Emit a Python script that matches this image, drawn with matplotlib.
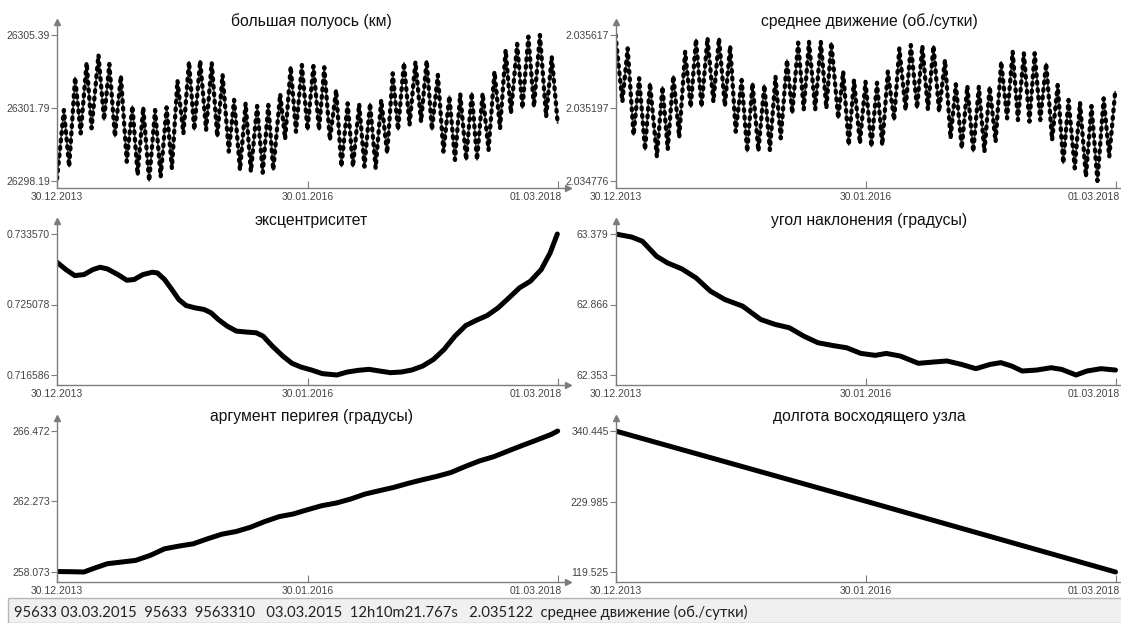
import datetime as dt
import matplotlib
matplotlib.use('Agg')
import matplotlib.pyplot as plt
from matplotlib.transforms import ScaledTranslation

# даты по оси X
date_labels = ['30.12.2013', '30.01.2016', '01.03.2018']

# моменты экстремумов колебаний (сутки от 30.12.2013)
t_a = [21, 55, 90, 126, 159, 194, 229, 262, 298, 333,
       366, 401, 435, 470, 503, 538, 573, 608, 642, 678,
       710, 744, 779, 812, 848, 883, 918, 951, 985, 1020,
       1054, 1089, 1123, 1157, 1192, 1225, 1260, 1293, 1329, 1363,
       1398, 1432, 1467, 1503]
t_b = [37, 72, 105, 143, 176, 212, 245, 280, 315, 349,
       384, 417, 453, 487, 522, 556, 589, 625, 657, 693,
       726, 761, 796, 829, 864, 899, 934, 968, 1003, 1036,
       1071, 1106, 1139, 1174, 1209, 1243, 1276, 1311, 1346, 1379,
       1414, 1449, 1486]
t_end = 1521

# большая полуось (км): старт, максимумы (в t_a), минимумы (в t_b), конец
a_start, a_end = 26298.30, 26301.05
a_max = [26301.69, 26303.30, 26304.02, 26304.40, 26303.96, 26303.37, 26301.89, 26301.82, 26301.69, 26301.82,
         26303.14, 26304.07, 26304.12, 26304.02, 26303.42, 26302.19, 26302.02, 26301.89, 26301.94, 26302.48,
         26303.83, 26303.91, 26303.86, 26303.80, 26302.68, 26302.02, 26301.99, 26302.02, 26302.19, 26303.50,
         26304.02, 26304.07, 26304.12, 26303.42, 26302.38, 26302.48, 26302.54, 26302.51, 26303.58, 26304.65,
         26304.95, 26305.31, 26305.39, 26304.32]
a_min = [26298.90, 26300.54, 26300.79, 26301.20, 26300.38, 26299.14, 26298.49, 26298.19, 26298.40, 26298.82,
         26300.54, 26300.71, 26300.71, 26300.38, 26299.64, 26298.73, 26298.65, 26298.60, 26298.73, 26300.26,
         26300.62, 26300.71, 26300.71, 26300.21, 26298.90, 26298.90, 26298.90, 26298.82, 26299.56, 26300.71,
         26300.95, 26301.11, 26300.71, 26299.64, 26299.23, 26299.23, 26299.23, 26299.72, 26300.79, 26301.53,
         26301.78, 26301.85, 26301.36]

# среднее движение (об./сутки): минимумы (в t_a), максимумы (в t_b)
n_start, n_end = 2.035617, 2.035290
n_min = [2.035233, 2.035041, 2.034955, 2.034916, 2.034959, 2.035028, 2.035201, 2.035204, 2.035233, 2.035208,
         2.035060, 2.034945, 2.034949, 2.034955, 2.035022, 2.035166, 2.035189, 2.035189, 2.035195, 2.035137,
         2.034983, 2.034993, 2.034974, 2.034983, 2.035127, 2.035185, 2.035195, 2.035189, 2.035175, 2.035022,
         2.034964, 2.034945, 2.034945, 2.035002, 2.035137, 2.035127, 2.035118, 2.035127, 2.035012, 2.034878,
         2.034849, 2.034801, 2.034776, 2.034916]
n_max = [2.035540, 2.035368, 2.035339, 2.035319, 2.035381, 2.035521, 2.035592, 2.035600, 2.035598, 2.035554,
         2.035358, 2.035339, 2.035329, 2.035377, 2.035473, 2.035573, 2.035578, 2.035578, 2.035573, 2.035406,
         2.035358, 2.035348, 2.035342, 2.035406, 2.035540, 2.035559, 2.035554, 2.035554, 2.035473, 2.035333,
         2.035323, 2.035319, 2.035319, 2.035463, 2.035521, 2.035512, 2.035512, 2.035454, 2.035329, 2.035243,
         2.035227, 2.035208, 2.035252]

# эксцентриситет
e_days = [0, 27, 54, 82, 109, 131, 153, 185, 212, 234, 261, 289, 305, 327, 349, 370, 392, 419, 447, 468,
          490, 517, 545, 577, 605, 626, 654, 686, 714, 741, 773, 806, 850, 882, 915, 948, 980, 1013, 1046,
          1078, 1111, 1144, 1176, 1209, 1242, 1275, 1307, 1340, 1373, 1405, 1438, 1471, 1498, 1520]
e_vals = [0.730165, 0.729284, 0.728563, 0.728683, 0.729284, 0.729564, 0.729364, 0.728683, 0.728002, 0.728082,
          0.728683, 0.728963, 0.728883, 0.728082, 0.726880, 0.725679, 0.724958, 0.724677, 0.724477, 0.724076,
          0.723275, 0.722474, 0.721873, 0.721753, 0.721673, 0.721272, 0.720071, 0.718869, 0.717988, 0.717547,
          0.717187, 0.716750, 0.716586, 0.716946, 0.717147, 0.717267, 0.717067, 0.716866, 0.716946,
          0.717187, 0.717667, 0.718469, 0.719670, 0.721272, 0.722554, 0.723195, 0.723756, 0.724677, 0.725879,
          0.727081, 0.727882, 0.729284, 0.731287, 0.733570]

# угол наклонения (градусы)
i_days = [0, 49, 82, 125, 158, 202, 245, 289, 333, 387, 442, 486, 529, 573, 616, 660, 704, 747, 791, 824,
          867, 922, 966, 1009, 1053, 1097, 1140, 1173, 1206, 1238, 1282, 1326, 1358, 1402, 1435, 1478, 1522]
i_vals = [63.379, 63.357, 63.326, 63.217, 63.169, 63.125, 63.060, 62.963, 62.902, 62.854, 62.757, 62.721,
          62.697, 62.636, 62.588, 62.568, 62.551, 62.510, 62.496, 62.510, 62.491, 62.438, 62.447, 62.455,
          62.430, 62.399, 62.430, 62.443, 62.418, 62.382, 62.389, 62.406, 62.394, 62.353, 62.382, 62.399, 62.389]

# аргумент перигея (градусы)
w_days = [0, 44, 82, 109, 153, 196, 239, 283, 327, 370, 414, 457, 501, 544, 588, 631, 675, 718, 762,
          805, 849, 892, 936, 979, 1023, 1066, 1110, 1153, 1197, 1240, 1284, 1328, 1371, 1415, 1458, 1502, 1521]
w_vals = [258.100, 258.090, 258.073, 258.271, 258.567, 258.666, 258.765, 259.061, 259.456, 259.615, 259.753,
          260.049, 260.326, 260.484, 260.741, 261.077, 261.373, 261.531, 261.788, 262.026, 262.184, 262.421,
          262.717, 262.915, 263.112, 263.350, 263.567, 263.765, 264.002, 264.357, 264.693, 264.950, 265.286,
          265.622, 265.938, 266.274, 266.472]

# долгота восходящего узла
o_days = [0, 761, 1522]
o_vals = [340.445, 230.6, 119.525]

titles = ['большая полуось (км)', 'среднее движение (об./сутки)', 'эксцентриситет',
          'угол наклонения (градусы)', 'аргумент перигея (градусы)', 'долгота восходящего узла']
y_labels = [['26298.19', '26301.79', '26305.39'], ['2.034776', '2.035197', '2.035617'],
            ['0.716586', '0.725078', '0.733570'], ['62.353', '62.866', '63.379'],
            ['258.073', '262.273', '266.472'], ['119.525', '229.985', '340.445']]

status_text = ('95633 03.03.2015  95633  9563310   03.03.2015  12h10m21.767s   '
               '2.035122  среднее движение (об./сутки)')


def zigzag(start, vals_a, vals_b, end):
    xs, ys = [0], [start]
    for k in range(len(t_a)):
        xs.append(t_a[k]); ys.append(vals_a[k])
        if k < len(t_b):
            xs.append(t_b[k]); ys.append(vals_b[k])
    xs.append(t_end); ys.append(end)
    return xs, ys


d0 = dt.date(2013, 12, 30)
x_ticks = [(dt.datetime.strptime(s, '%d.%m.%Y').date() - d0).days for s in date_labels]

W, H = 1121, 623
fig = plt.figure(figsize=(W / 100, H / 100), dpi=100)
GRAY = '#7c7c7c'

# пиксельная разметка: колонки (x0, x конца стрелки, x последней даты), строки (верх стрелки, max, min, ось)
cols = [(57, 568, 558), (615.5, 1125, 1115.5)]
rows = [(22, 35, 181, 188), (221, 234, 375, 385), (418, 431, 572, 582)]

series = [zigzag(a_start, a_max, a_min, a_end), zigzag(n_start, n_min, n_max, n_end),
          (e_days, e_vals), (i_days, i_vals), (w_days, w_vals), (o_days, o_vals)]

for idx, (xs, ys) in enumerate(series):
    c, r = cols[idx % 2], rows[idx // 2]
    x0, x1, xe = c
    ytop, pmax, pmin, yax = r
    ax = fig.add_axes([x0 / W, 1 - yax / H, (x1 - x0) / W, (yax - ytop) / H])
    ax.set_xlim(0, x_ticks[-1] * (x1 - x0) / (xe - x0))
    vmin, vmax = float(y_labels[idx][0]), float(y_labels[idx][2])
    s = (vmax - vmin) / (pmin - pmax)
    ax.set_ylim(vmin - (yax - pmin) * s, vmax + (pmax - ytop) * s)

    if idx < 2:
        ax.plot(xs, ys, color='black', lw=3.1, ls=(0, (0.4, 1.35)), dash_capstyle='round')
        ax.plot(xs, ys, color='black', lw=1.3, alpha=0.7)
    else:
        ax.plot(xs, ys, color='black', lw=3.6, solid_capstyle='round')

    for sp in ['top', 'right']:
        ax.spines[sp].set_visible(False)
    for sp in ['left', 'bottom']:
        ax.spines[sp].set_color(GRAY)
        ax.spines[sp].set_linewidth(1.0)
    ax.plot(1, 0, marker='>', ms=4, color=GRAY, transform=ax.transAxes, clip_on=False)
    ax.plot(0, 1, marker='^', ms=4, color=GRAY, transform=ax.transAxes, clip_on=False)

    ax.set_xticks(x_ticks)
    ax.set_xticklabels(date_labels)
    ax.set_yticks([vmin, (vmin + vmax) / 2, vmax])
    ax.set_yticklabels(y_labels[idx])
    ax.tick_params(axis='x', direction='in', length=5, color=GRAY, pad=3,
                   labelsize=7.5, labelcolor='#444444')
    ax.tick_params(axis='y', direction='out', length=4, color=GRAY, pad=1,
                   labelsize=7.5, labelcolor='#444444')
    for lab in ax.get_xticklabels() + ax.get_yticklabels():
        lab.set_family('Liberation Sans')
    # последняя дата прижата к концу оси
    last = ax.get_xticklabels()[-1]
    last.set_ha('right')
    last.set_transform(last.get_transform() + ScaledTranslation(4 / 100, 0, fig.dpi_scale_trans))

    fig.text(((x0 + xe) / 2 + 4) / W, 1 - (ytop - 1) / H, titles[idx], ha='center', va='center',
             fontsize=11.3, color='#111111', family='Liberation Sans')

# строка состояния
fig.patches.append(plt.Rectangle((8 / W, 0), 1, 25 / H, transform=fig.transFigure,
                                 facecolor='#f0f0f0', edgecolor='#b4b4b4', lw=1.0))
fig.text(14 / W, 11 / H, status_text, ha='left', va='center', fontsize=10.7,
         color='#222222', family=['Lato', 'Noto Sans'])

fig.savefig('out.png', dpi=100)
